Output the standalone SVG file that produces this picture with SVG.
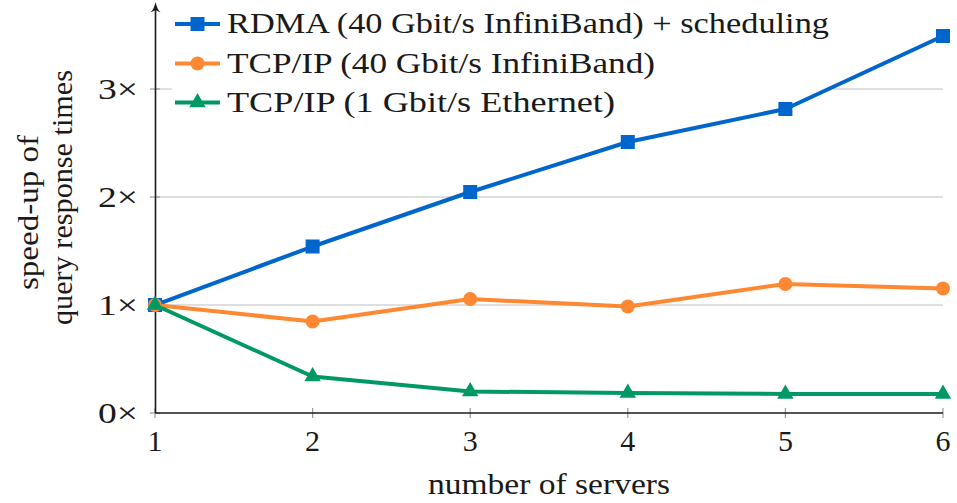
<svg xmlns="http://www.w3.org/2000/svg" width="957" height="503" viewBox="0 0 957 503" font-family="Liberation Serif, Times New Roman, Times, DejaVu Serif, Noto Serif, serif">
  <style>
    text { font-family: "Liberation Serif", "Times New Roman", Times, "DejaVu Serif", "Noto Serif", serif; fill: #1a1a1a; }
    .tick { font-size: 30px; }
    .lab { font-size: 29px; }
    .grid { stroke: #d4d4d4; stroke-width: 1.5; fill: none; }
    .tk { stroke: #9a9a9a; stroke-width: 1.2; fill: none; }
    .axis { stroke: #1a1a1a; stroke-width: 1.6; fill: none; }
    .s-blue { stroke: #0066cc; stroke-width: 4; fill: none; stroke-linejoin: round; }
    .s-orange { stroke: #ff8833; stroke-width: 4; fill: none; stroke-linejoin: round; }
    .s-green { stroke: #009966; stroke-width: 4; fill: none; stroke-linejoin: round; }
    .m-blue { fill: #0066cc; }
    .m-orange { fill: #ff8833; }
    .m-green { fill: #009966; }
  </style>
  <defs>
    <rect id="sq" x="-7" y="-7" width="14" height="14"/>
    <circle id="ci" r="7"/>
    <path id="tri" d="M0,-9.5 L8.2,4.75 L-8.2,4.75 Z"/>
  </defs>

  <!-- grid lines at 1x, 2x, 3x -->
  <g id="grid">
    <line class="grid" x1="155" y1="305" x2="943" y2="305"/>
    <line class="grid" x1="155" y1="197" x2="943" y2="197"/>
    <line class="grid" x1="155" y1="89" x2="943" y2="89"/>
  </g>

  <!-- tick marks -->
  <g id="ticks">
    <line class="tk" x1="150" y1="413" x2="160" y2="413"/>
    <line class="tk" x1="150" y1="305" x2="160" y2="305"/>
    <line class="tk" x1="150" y1="197" x2="160" y2="197"/>
    <line class="tk" x1="150" y1="89" x2="160" y2="89"/>
    <line class="tk" x1="155" y1="408" x2="155" y2="418"/>
    <line class="tk" x1="312.6" y1="408" x2="312.6" y2="418"/>
    <line class="tk" x1="470.2" y1="408" x2="470.2" y2="418"/>
    <line class="tk" x1="627.8" y1="408" x2="627.8" y2="418"/>
    <line class="tk" x1="785.4" y1="408" x2="785.4" y2="418"/>
    <line class="tk" x1="943" y1="408" x2="943" y2="418"/>
  </g>

  <!-- axes -->
  <g id="axes">
    <line class="axis" x1="155" y1="413" x2="943" y2="413"/>
    <line class="axis" x1="155.5" y1="413" x2="155.5" y2="6"/>
    <path d="M155.5,2 C156.5,7 158.5,10.5 160.5,12.5 L155.5,10 L150.5,12.5 C152.5,10.5 154.5,7 155.5,2 Z" fill="#1a1a1a"/>
  </g>

  <!-- tick labels -->
  <g id="ytick-labels" text-anchor="end">
    <text x="138" y="423" class="tick" textLength="40" lengthAdjust="spacingAndGlyphs">0×</text>
    <text x="138" y="315" class="tick" textLength="40" lengthAdjust="spacingAndGlyphs">1×</text>
    <text x="138" y="207" class="tick" textLength="40" lengthAdjust="spacingAndGlyphs">2×</text>
    <text x="138" y="99" class="tick" textLength="40" lengthAdjust="spacingAndGlyphs">3×</text>
  </g>
  <g id="xtick-labels" text-anchor="middle">
    <text x="155" y="451" class="tick">1</text>
    <text x="312.6" y="451" class="tick">2</text>
    <text x="470.2" y="451" class="tick">3</text>
    <text x="627.8" y="451" class="tick">4</text>
    <text x="785.4" y="451" class="tick">5</text>
    <text x="943" y="451" class="tick">6</text>
  </g>

  <!-- axis titles -->
  <g id="xlabel">
    <text x="549" y="494" class="lab" text-anchor="middle" textLength="242" lengthAdjust="spacingAndGlyphs">number of servers</text>
  </g>
  <g id="ylabel">
    <text transform="translate(38,212.5) rotate(-90)" class="lab" text-anchor="middle" textLength="155" lengthAdjust="spacingAndGlyphs">speed-up of</text>
    <text transform="translate(72,197.5) rotate(-90)" class="lab" text-anchor="middle" textLength="255" lengthAdjust="spacingAndGlyphs">query response times</text>
  </g>

  <!-- legend background -->
  <rect id="legend-bg" x="172" y="4" width="661" height="114" fill="#ffffff"/>

  <!-- data series -->
  <g id="connectors">
    <polyline id="rdma" class="s-blue" points="155,305 312.6,246.5 470.2,192 627.8,142 785.4,109 943,36"/>
    <polyline id="tcp40" class="s-orange" points="155,305 312.6,321.5 470.2,299 627.8,306.5 785.4,284 943,288.5"/>
    <polyline id="tcp1" class="s-green" points="155,305 312.6,376.5 470.2,391.5 627.8,393 785.4,394 943,394"/>
  </g>

  <g id="rdma-markers" class="m-blue">
    <use href="#sq" x="155" y="305"/>
    <use href="#sq" x="312.6" y="246.5"/>
    <use href="#sq" x="470.2" y="192"/>
    <use href="#sq" x="627.8" y="142"/>
    <use href="#sq" x="785.4" y="109"/>
    <use href="#sq" x="943" y="36"/>
  </g>
  <g id="tcp40-markers" class="m-orange">
    <use href="#ci" x="155" y="305"/>
    <use href="#ci" x="312.6" y="321.5"/>
    <use href="#ci" x="470.2" y="299"/>
    <use href="#ci" x="627.8" y="306.5"/>
    <use href="#ci" x="785.4" y="284"/>
    <use href="#ci" x="943" y="288.5"/>
  </g>
  <g id="tcp1-markers" class="m-green">
    <use href="#tri" x="155" y="305"/>
    <use href="#tri" x="312.6" y="376.5"/>
    <use href="#tri" x="470.2" y="391.5"/>
    <use href="#tri" x="627.8" y="393"/>
    <use href="#tri" x="785.4" y="394"/>
    <use href="#tri" x="943" y="394"/>
  </g>

  <!-- legend entries -->
  <g id="legend">
    <g id="legend-rdma">
      <line class="s-blue" x1="175" y1="24" x2="220" y2="24"/>
      <use href="#sq" x="197.5" y="24" class="m-blue"/>
      <text x="227" y="33" class="lab" textLength="602" lengthAdjust="spacingAndGlyphs">RDMA (40 Gbit/s InfiniBand) + scheduling</text>
    </g>
    <g id="legend-tcp40">
      <line class="s-orange" x1="175" y1="63.5" x2="220" y2="63.5"/>
      <use href="#ci" x="197.5" y="63.5" class="m-orange"/>
      <text x="227" y="73" class="lab" textLength="428" lengthAdjust="spacingAndGlyphs">TCP/IP (40 Gbit/s InfiniBand)</text>
    </g>
    <g id="legend-tcp1">
      <line class="s-green" x1="175" y1="102.5" x2="220" y2="102.5"/>
      <use href="#tri" x="197.5" y="102.5" class="m-green"/>
      <text x="227" y="112" class="lab" textLength="388" lengthAdjust="spacingAndGlyphs">TCP/IP (1 Gbit/s Ethernet)</text>
    </g>
  </g>
</svg>
